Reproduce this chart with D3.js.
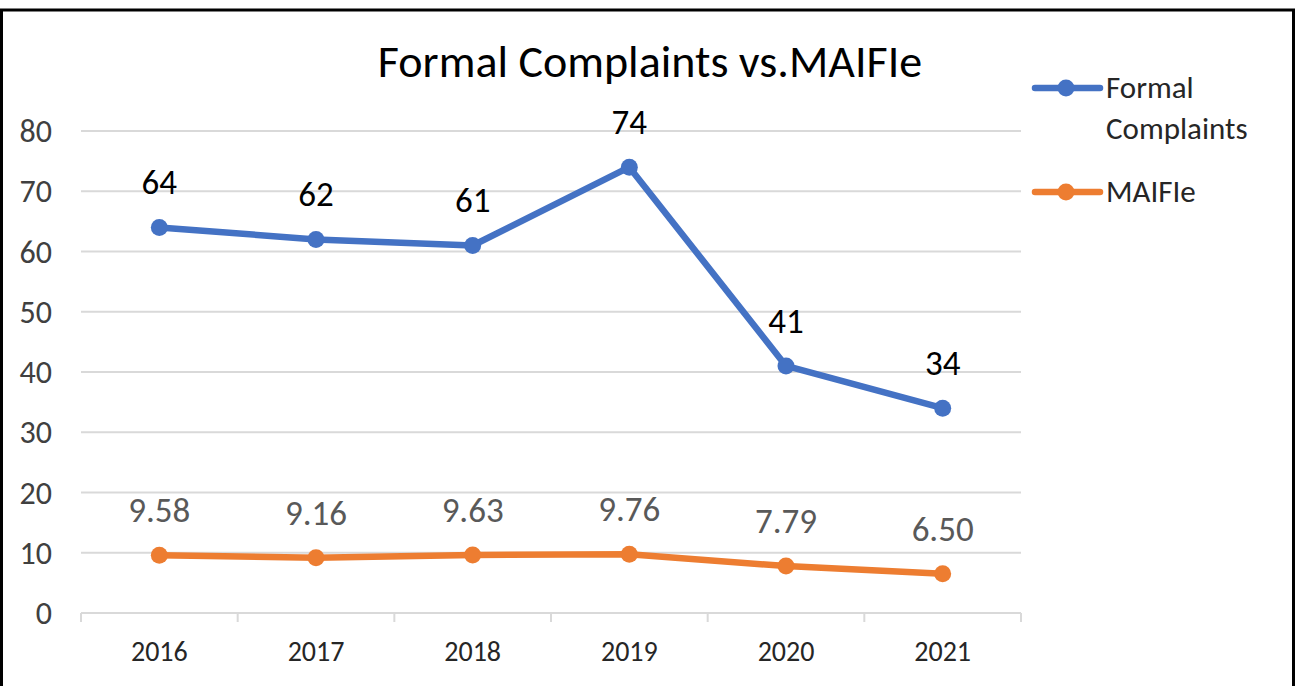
<!DOCTYPE html>
<html>
<head>
<meta charset="utf-8">
<script src="https://cdn.jsdelivr.net/npm/d3@7"></script>
<style>
  body { margin: 0; background: #fff; }
  text { font-family: 'Carlito', 'Open Sans', sans-serif; }
</style>
</head>
<body>
<script>
const years = ['2016', '2017', '2018', '2019', '2020', '2021'];
const complaints = [64, 62, 61, 74, 41, 34];
const maifie = [9.58, 9.16, 9.63, 9.76, 7.79, 6.50];
const yTicks = [0, 10, 20, 30, 40, 50, 60, 70, 80];
const seriesNames = ['Formal Complaints', 'MAIFIe'];

const w = 1299, h = 686;
const svg = d3.select('body').append('svg').attr('width', w).attr('height', h);

svg.append('rect').attr('x', 1.5).attr('y', 10).attr('width', 1292).attr('height', 700)
   .attr('fill', '#fff').attr('stroke', '#000').attr('stroke-width', 3);

const x = d3.scaleBand().domain(years).range([81, 1021]);
const y = d3.scaleLinear().domain([0, 80]).range([613, 131]);

// grid
svg.append('g').selectAll('line').data(yTicks).enter().append('line')
   .attr('x1', 81).attr('x2', 1021)
   .attr('y1', d => y(d)).attr('y2', d => y(d))
   .attr('stroke', '#d9d9d9').attr('stroke-width', 2);

// y labels
svg.append('g').selectAll('text').data(yTicks).enter().append('text')
   .attr('x', 52).attr('y', d => y(d) + 11)
   .attr('text-anchor', 'end').style('font-size', '32px').attr('fill', '#404040')
   .text(d => d);

// x axis
const xAxis = d3.axisBottom(x).tickSize(0).tickSizeOuter(0);
const gx = svg.append('g').attr('transform', 'translate(0,613)').call(xAxis);
gx.select('.domain').remove();
gx.selectAll('text').style('font-size', '28px').attr('fill', '#262626')
  .attr('dy', 0).attr('y', 48).style('font-family', "'Carlito', 'Open Sans', sans-serif");
const bounds = years.map(d => x(d)).concat([x.range()[1]]);
svg.append('g').selectAll('line').data(bounds).enter().append('line')
   .attr('x1', d => d).attr('x2', d => d).attr('y1', 613).attr('y2', 622)
   .attr('stroke', '#d9d9d9').attr('stroke-width', 2);

const cx = d => x(d) + x.bandwidth() / 2;
const line = d3.line().x(d => cx(d.year)).y(d => y(d.v));

function drawSeries(vals, color, labelColor, fmt) {
  const data = years.map((yr, i) => ({ year: yr, v: vals[i] }));
  svg.append('path').datum(data).attr('d', line)
     .attr('fill', 'none').attr('stroke', color).attr('stroke-width', 6.5)
     .attr('stroke-linejoin', 'round').attr('stroke-linecap', 'round');
  svg.append('g').selectAll('circle').data(data).enter().append('circle')
     .attr('cx', d => cx(d.year)).attr('cy', d => y(d.v)).attr('r', 8.5).attr('fill', color);
  svg.append('g').selectAll('text').data(data).enter().append('text')
     .attr('x', d => cx(d.year)).attr('y', d => y(d.v) - 33)
     .attr('text-anchor', 'middle').style('font-size', '35px').attr('fill', labelColor)
     .text(d => fmt(d.v));
}
drawSeries(complaints, '#4472c4', '#000', d3.format('d'));
drawSeries(maifie, '#ed7d31', '#595959', d3.format('.2f'));

// title
svg.append('text').attr('x', 650).attr('y', 77)
   .attr('text-anchor', 'middle').style('font-size', '46px').attr('fill', '#000')
   .text('Formal Complaints vs.MAIFIe');

// legend
const legend = [
  { name: seriesNames[0], color: '#4472c4', y: 88, lines: ['Formal', 'Complaints'] },
  { name: seriesNames[1], color: '#ed7d31', y: 192, lines: ['MAIFIe'] }
];
legend.forEach(l => {
  svg.append('line').attr('x1', 1035).attr('x2', 1100).attr('y1', l.y).attr('y2', l.y)
     .attr('stroke', l.color).attr('stroke-width', 6.5).attr('stroke-linecap', 'round');
  svg.append('circle').attr('cx', 1066).attr('cy', l.y).attr('r', 8.5).attr('fill', l.color);
  l.lines.forEach((t, i) => {
    svg.append('text').attr('x', 1106).attr('y', l.y + 10 + i * 41)
       .style('font-size', '31px').attr('fill', '#262626').text(t);
  });
});
</script>
</body>
</html>
